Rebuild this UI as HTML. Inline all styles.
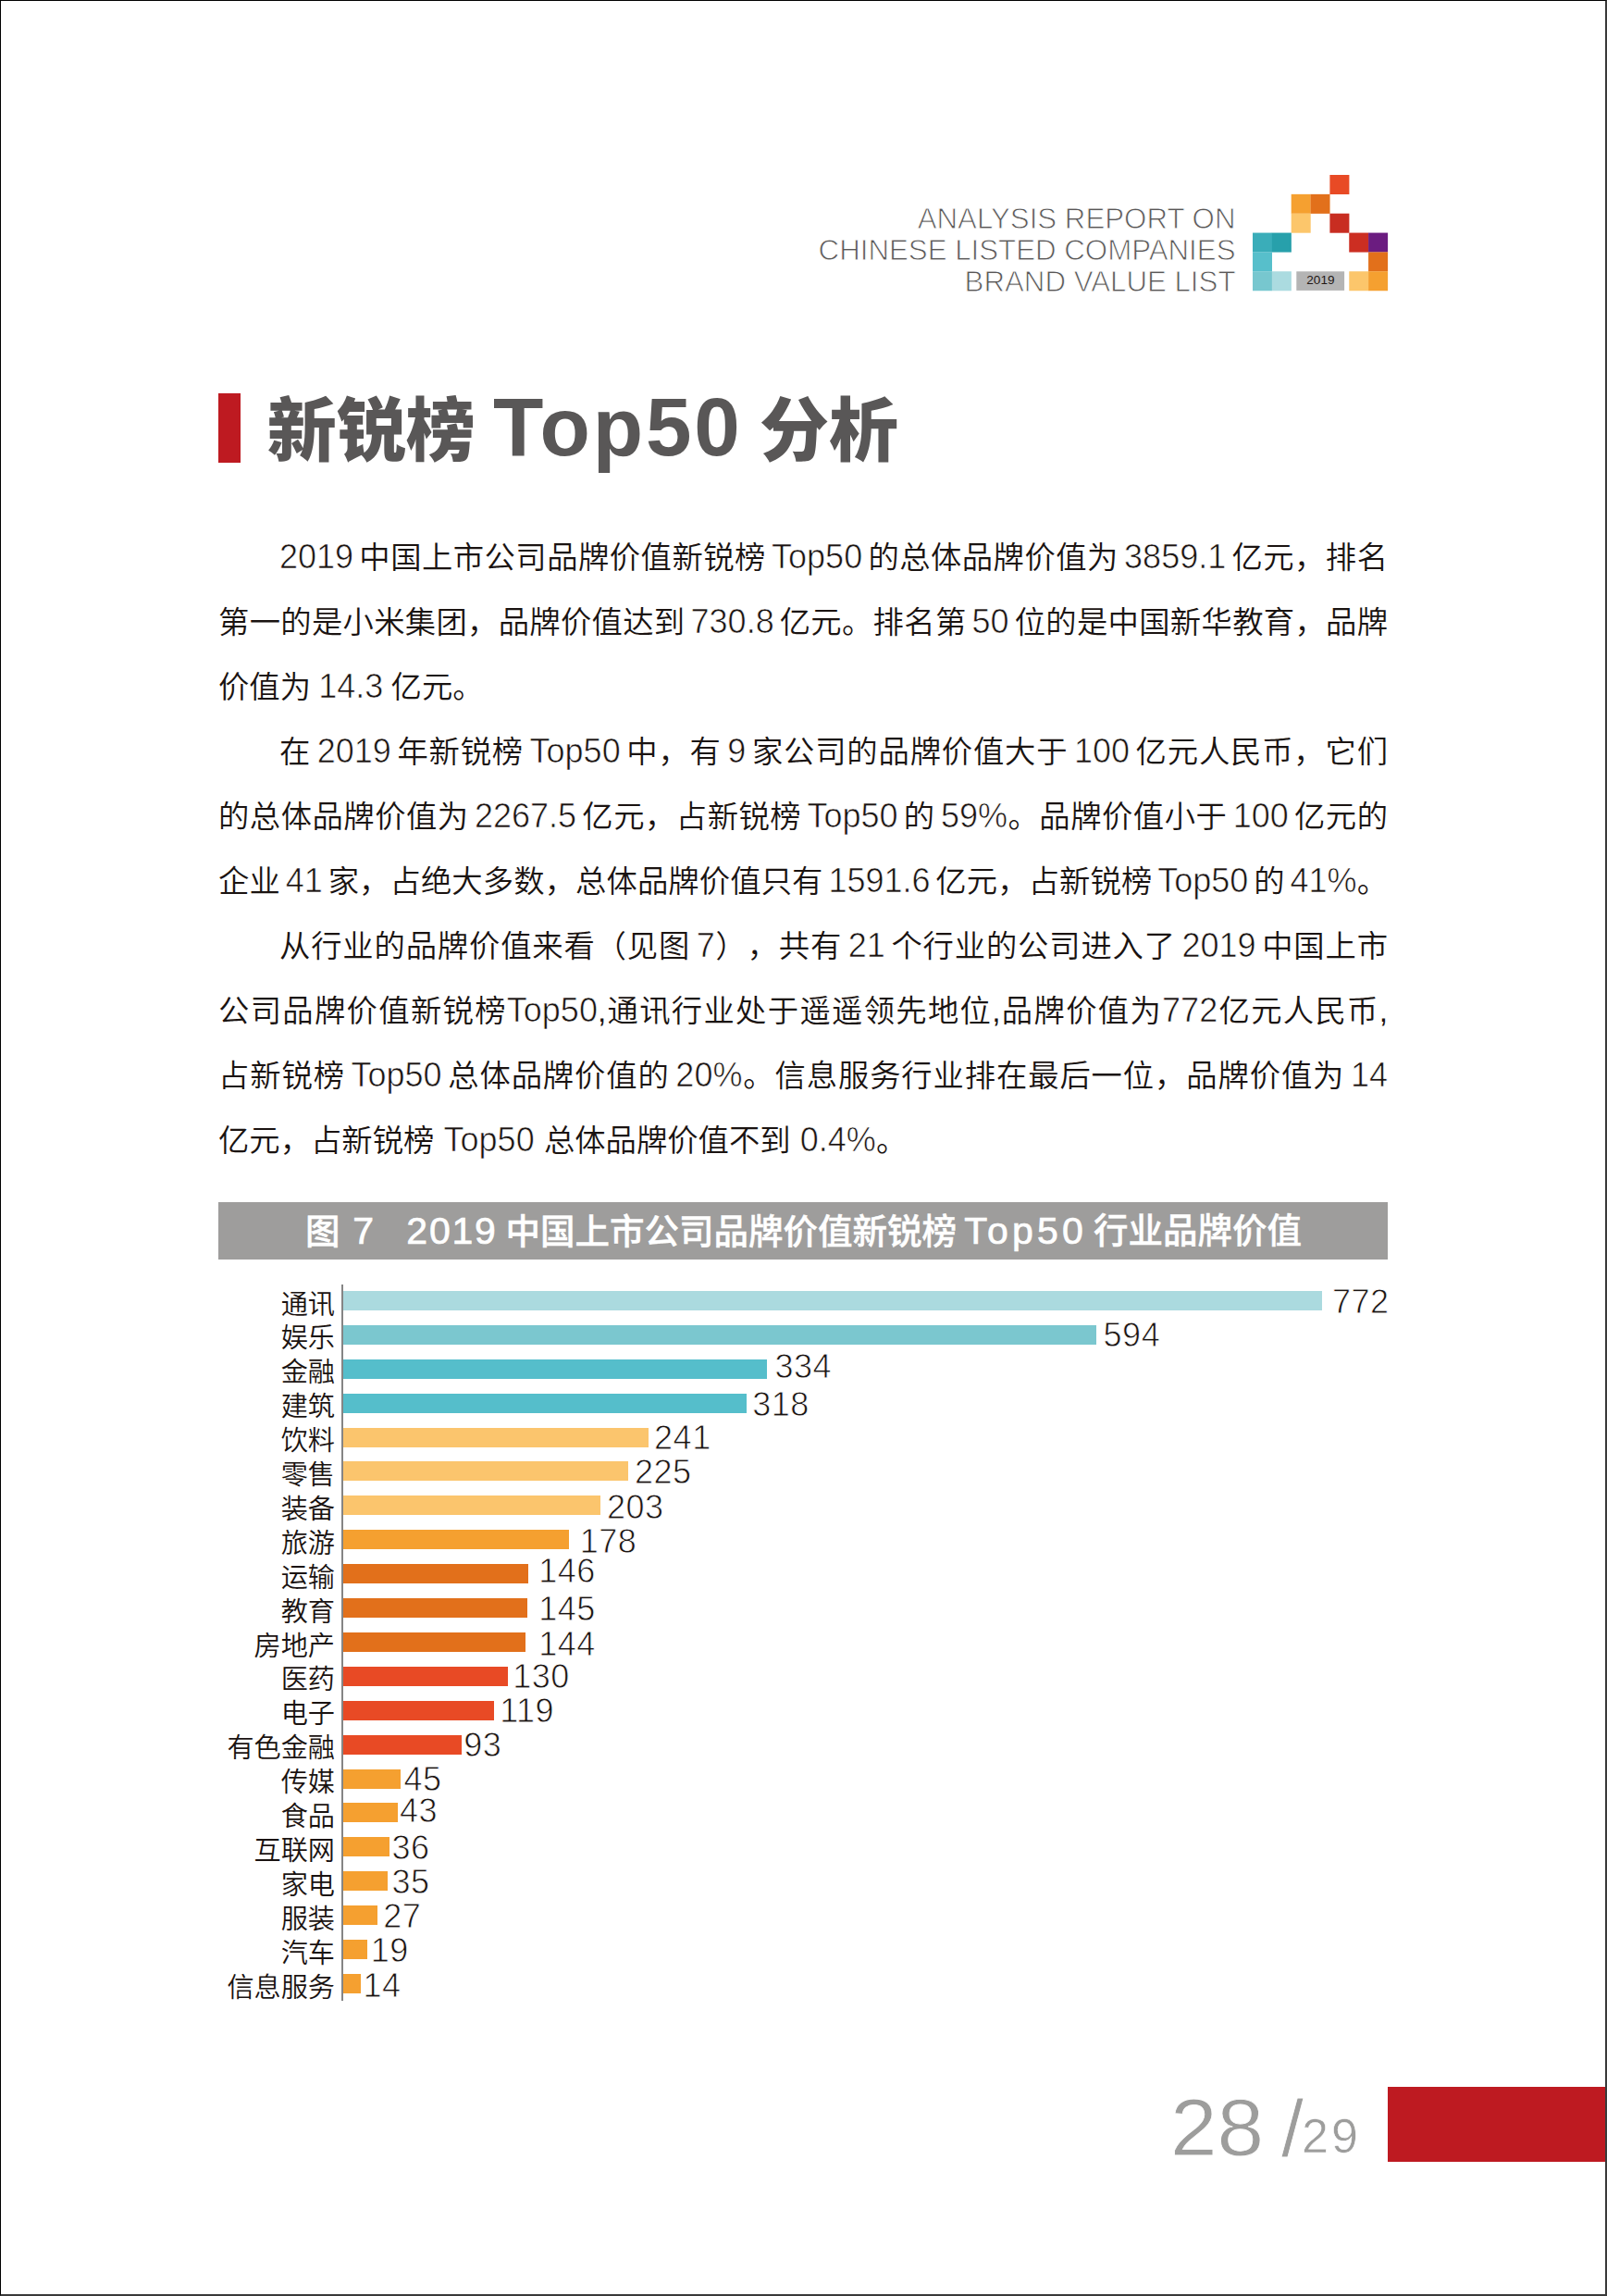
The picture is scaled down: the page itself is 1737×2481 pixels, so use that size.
<!DOCTYPE html>
<html lang="zh-CN">
<head>
<meta charset="utf-8">
<title>新锐榜 Top50 分析</title>
<style>
html,body{margin:0;padding:0;background:#fff;}
body{width:1737px;height:2481px;position:relative;overflow:hidden;
  font-family:"Liberation Sans","Noto Sans CJK SC",sans-serif;color:#231815;}
#frame{position:absolute;left:0;top:0;width:1737px;height:2481px;box-sizing:border-box;
  border-top:1.5px solid #000;border-left:1.5px solid #000;border-right:2px solid #3a3a3a;border-bottom:2px solid #3a3a3a;}
.abs{position:absolute;}
.hdr{position:absolute;right:401.5px;width:600px;text-align:right;font-size:31.25px;line-height:34px;height:34px;color:#595757;white-space:nowrap;-webkit-text-stroke:0.9px #fff;}
#logo{position:absolute;left:1353.8px;top:188.9px;}
#tbar{position:absolute;left:236px;top:425px;width:24px;height:74.5px;background:#be1a21;}
.tt{position:absolute;top:405.5px;height:120px;line-height:120px;white-space:nowrap;font-weight:900;color:#595757;font-size:75px;margin:0;}
.tt.t{font-size:89px;letter-spacing:2.8px;font-weight:bold;top:401.3px;}
.bl{position:absolute;height:70px;line-height:70px;font-size:33.33px;font-weight:350;white-space:nowrap;color:#1a1311;}
.bl{word-spacing:-1px;}
.bl.j{text-align:justify;text-align-last:justify;word-spacing:-3.5px;}
.bl.sa{text-spacing-trim:space-all;}
.bl.w1{word-spacing:1px;}
.bl .l{font-size:36px;font-weight:400;-webkit-text-stroke:0.65px #fff;}
#cbar{position:absolute;left:236px;top:1299.3px;width:1264px;height:61.5px;background:#9e9d9c;}
.ct{position:absolute;top:1299.8px;height:61.5px;line-height:61.5px;font-size:37.5px;font-weight:500;color:#fff;white-space:pre;-webkit-text-stroke:0.45px #fff;}
.ct.w .l{letter-spacing:4.2px !important;}
.ct .l{font-size:41px;font-weight:400;letter-spacing:1.8px;-webkit-text-stroke:0.7px #fff;}
#axis{position:absolute;left:369px;top:1388px;width:2px;height:773.5px;background:#858585;}
.bar{position:absolute;left:371.3px;height:21.1px;}
.lab{position:absolute;right:1375px;height:40px;line-height:40px;font-size:29.17px;font-weight:350;color:#1a1311;white-space:nowrap;text-align:right;}
.val{position:absolute;height:40px;line-height:40px;font-size:36px;white-space:nowrap;letter-spacing:0.5px;color:#1a1311;-webkit-text-stroke:0.8px #fff;}
#fred{position:absolute;left:1500px;top:2254.5px;width:235px;height:81.8px;background:#be1a21;}
.pg{position:absolute;top:2245px;height:110px;line-height:110px;white-space:nowrap;color:#9d9d9c;font-size:86.2px;-webkit-text-stroke:0.8px #fff;}
.pg.s{font-size:52px;letter-spacing:3px;-webkit-text-stroke:0.6px #fff;top:2253px;}
</style>
</head>
<body>
<div id="frame"></div>
<div class="hdr" style="top:220px">ANALYSIS REPORT ON</div>
<div class="hdr" style="top:254px">CHINESE LISTED COMPANIES</div>
<div class="hdr" style="top:288px">BRAND VALUE LIST</div>
<svg id="logo" width="150" height="130" viewBox="0 0 150 130">
<rect x="83.40" y="0.00" width="21.00" height="21.00" fill="#e84a25"/>
<rect x="41.70" y="20.85" width="21.00" height="21.00" fill="#f5a030"/>
<rect x="62.55" y="20.85" width="21.00" height="21.00" fill="#e2701b"/>
<rect x="41.70" y="41.70" width="21.00" height="21.00" fill="#fcc66b"/>
<rect x="83.40" y="41.70" width="21.00" height="21.00" fill="#c82d21"/>
<rect x="0.00" y="62.55" width="21.00" height="21.00" fill="#3aadb9"/>
<rect x="20.85" y="62.55" width="21.00" height="21.00" fill="#27a0ab"/>
<rect x="104.25" y="62.55" width="21.00" height="21.00" fill="#cc2e22"/>
<rect x="125.10" y="62.55" width="21.00" height="21.00" fill="#6b1c80"/>
<rect x="0.00" y="83.40" width="21.00" height="21.00" fill="#57bfcb"/>
<rect x="125.10" y="83.40" width="21.00" height="21.00" fill="#e2701b"/>
<rect x="0.00" y="104.25" width="21.00" height="21.00" fill="#77c7cf"/>
<rect x="20.85" y="104.25" width="21.00" height="21.00" fill="#abdbe0"/>
<rect x="104.25" y="104.25" width="21.00" height="21.00" fill="#fcc66b"/>
<rect x="125.10" y="104.25" width="21.00" height="21.00" fill="#f5a030"/>
<rect x="47.3" y="104.3" width="51.8" height="20.6" fill="#b4b4b4"/>
<text x="73.4" y="118.4" font-family="Liberation Sans, sans-serif" font-size="13.6" fill="#231815" text-anchor="middle">2019</text>
</svg>
<div id="tbar"></div>
<h1 class="tt" style="left:288.7px">新锐榜</h1><h1 class="tt t" style="left:533px">Top50</h1><h1 class="tt" style="left:821px">分析</h1>
<div class="bl j" style="top:567.4px;left:302px;width:1198px"><span class="l">2019</span> 中国上市公司品牌价值新锐榜 <span class="l">Top50</span> 的总体品牌价值为 <span class="l">3859.1</span> 亿元，排名</div>
<div class="bl j" style="top:637.4px;left:236px;width:1264px">第一的是小米集团，品牌价值达到 <span class="l">730.8</span> 亿元。排名第 <span class="l">50</span> 位的是中国新华教育，品牌</div>
<div class="bl" style="top:707.4px;left:236px;width:1264px">价值为 <span class="l">14.3</span> 亿元。</div>
<div class="bl j" style="top:777.4px;left:302px;width:1198px">在 <span class="l">2019</span> 年新锐榜 <span class="l">Top50</span> 中，有 <span class="l">9</span> 家公司的品牌价值大于 <span class="l">100</span> 亿元人民币，它们</div>
<div class="bl j" style="top:847.4px;left:236px;width:1264px">的总体品牌价值为 <span class="l">2267.5</span> 亿元，占新锐榜 <span class="l">Top50</span> 的 <span class="l">59%</span>。品牌价值小于 <span class="l">100</span> 亿元的</div>
<div class="bl j" style="top:917.4px;left:236px;width:1264px">企业 <span class="l">41</span> 家，占绝大多数，总体品牌价值只有 <span class="l">1591.6</span> 亿元，占新锐榜 <span class="l">Top50</span> 的 <span class="l">41%</span>。</div>
<div class="bl j sa" style="top:987.4px;left:302px;width:1198px">从行业的品牌价值来看（见图 <span class="l">7</span>），共有 <span class="l">21</span> 个行业的公司进入了 <span class="l">2019</span> 中国上市</div>
<div class="bl j" style="top:1057.4px;left:236px;width:1264px">公司品牌价值新锐榜<span class="l">Top50</span>,通讯行业处于遥遥领先地位,品牌价值为<span class="l">772</span>亿元人民币,</div>
<div class="bl j" style="top:1127.4px;left:236px;width:1264px">占新锐榜 <span class="l">Top50</span> 总体品牌价值的 <span class="l">20%</span>。信息服务行业排在最后一位，品牌价值为 <span class="l">14</span></div>
<div class="bl w1" style="top:1197.4px;left:236px;width:1264px">亿元，占新锐榜 <span class="l">Top50</span> 总体品牌价值不到 <span class="l">0.4%</span>。</div>
<div id="cbar"></div>
<div class="ct" style="left:330px;word-spacing:3.3px">图 <span class="l">7</span></div><div class="ct" style="left:439.3px;word-spacing:-1.6px"><span class="l">2019</span> 中国上市公司品牌价值新锐榜</div><div class="ct w" style="left:1042.3px"><span class="l">Top50</span></div><div class="ct" style="left:1182px">行业品牌价值</div>
<div id="axis"></div>
<div class="bar" style="top:1394.9px;width:1057.3px;background:#abdadf"></div>
<div class="lab" style="top:1389.5px">通讯</div>
<div class="val" style="top:1386.7px;left:1439.9px">772</div>
<div class="bar" style="top:1431.8px;width:813.5px;background:#7bc7cf"></div>
<div class="lab" style="top:1426.4px">娱乐</div>
<div class="val" style="top:1423.3px;left:1192.6px">594</div>
<div class="bar" style="top:1468.7px;width:457.4px;background:#55becb"></div>
<div class="lab" style="top:1463.2px">金融</div>
<div class="val" style="top:1457.4px;left:837.5px">334</div>
<div class="bar" style="top:1505.6px;width:435.5px;background:#55becb"></div>
<div class="lab" style="top:1500.2px">建筑</div>
<div class="val" style="top:1498.1px;left:813.3px">318</div>
<div class="bar" style="top:1542.5px;width:330.0px;background:#fbc56d"></div>
<div class="lab" style="top:1537.0px">饮料</div>
<div class="val" style="top:1534.4px;left:707.1px">241</div>
<div class="bar" style="top:1579.4px;width:308.1px;background:#fbc56d"></div>
<div class="lab" style="top:1574.0px">零售</div>
<div class="val" style="top:1571.0px;left:685.9px">225</div>
<div class="bar" style="top:1616.3px;width:278.0px;background:#fbc56d"></div>
<div class="lab" style="top:1610.9px">装备</div>
<div class="val" style="top:1608.6px;left:655.9px">203</div>
<div class="bar" style="top:1653.2px;width:243.8px;background:#f5a030"></div>
<div class="lab" style="top:1647.8px">旅游</div>
<div class="val" style="top:1645.8px;left:626.7px">178</div>
<div class="bar" style="top:1690.1px;width:199.9px;background:#e2701b"></div>
<div class="lab" style="top:1684.7px">运输</div>
<div class="val" style="top:1678.2px;left:582.2px">146</div>
<div class="bar" style="top:1727.0px;width:198.6px;background:#e2701b"></div>
<div class="lab" style="top:1721.5px">教育</div>
<div class="val" style="top:1718.7px;left:582.2px">145</div>
<div class="bar" style="top:1763.9px;width:197.2px;background:#e2701b"></div>
<div class="lab" style="top:1758.5px">房地产</div>
<div class="val" style="top:1756.9px;left:582.2px">144</div>
<div class="bar" style="top:1800.8px;width:178.0px;background:#e84a25"></div>
<div class="lab" style="top:1795.4px">医药</div>
<div class="val" style="top:1792.4px;left:554.2px">130</div>
<div class="bar" style="top:1837.7px;width:163.0px;background:#e84a25"></div>
<div class="lab" style="top:1832.2px">电子</div>
<div class="val" style="top:1829.0px;left:540.2px">119</div>
<div class="bar" style="top:1874.6px;width:127.4px;background:#e84a25"></div>
<div class="lab" style="top:1869.2px">有色金融</div>
<div class="val" style="top:1865.6px;left:501.3px">93</div>
<div class="bar" style="top:1911.5px;width:61.6px;background:#f5a030"></div>
<div class="lab" style="top:1906.0px">传媒</div>
<div class="val" style="top:1902.8px;left:436.6px">45</div>
<div class="bar" style="top:1948.4px;width:58.9px;background:#f5a030"></div>
<div class="lab" style="top:1943.0px">食品</div>
<div class="val" style="top:1937.4px;left:431.9px">43</div>
<div class="bar" style="top:1985.3px;width:49.3px;background:#f5a030"></div>
<div class="lab" style="top:1979.9px">互联网</div>
<div class="val" style="top:1976.8px;left:423.5px">36</div>
<div class="bar" style="top:2022.2px;width:47.9px;background:#f5a030"></div>
<div class="lab" style="top:2016.8px">家电</div>
<div class="val" style="top:2013.8px;left:423.5px">35</div>
<div class="bar" style="top:2059.1px;width:37.0px;background:#f5a030"></div>
<div class="lab" style="top:2053.7px">服装</div>
<div class="val" style="top:2050.8px;left:414.2px">27</div>
<div class="bar" style="top:2096.0px;width:26.0px;background:#f5a030"></div>
<div class="lab" style="top:2090.6px">汽车</div>
<div class="val" style="top:2088.0px;left:400.8px">19</div>
<div class="bar" style="top:2132.9px;width:19.2px;background:#f5a030"></div>
<div class="lab" style="top:2127.5px">信息服务</div>
<div class="val" style="top:2125.5px;left:392.4px">14</div>
<div class="pg" style="left:1265px;top:2244.4px;transform:scaleX(1.055);transform-origin:0 0">28</div><div class="pg" style="left:1385px">/</div><div class="pg s" style="left:1407px">29</div>
<div id="fred"></div>
</body>
</html>
